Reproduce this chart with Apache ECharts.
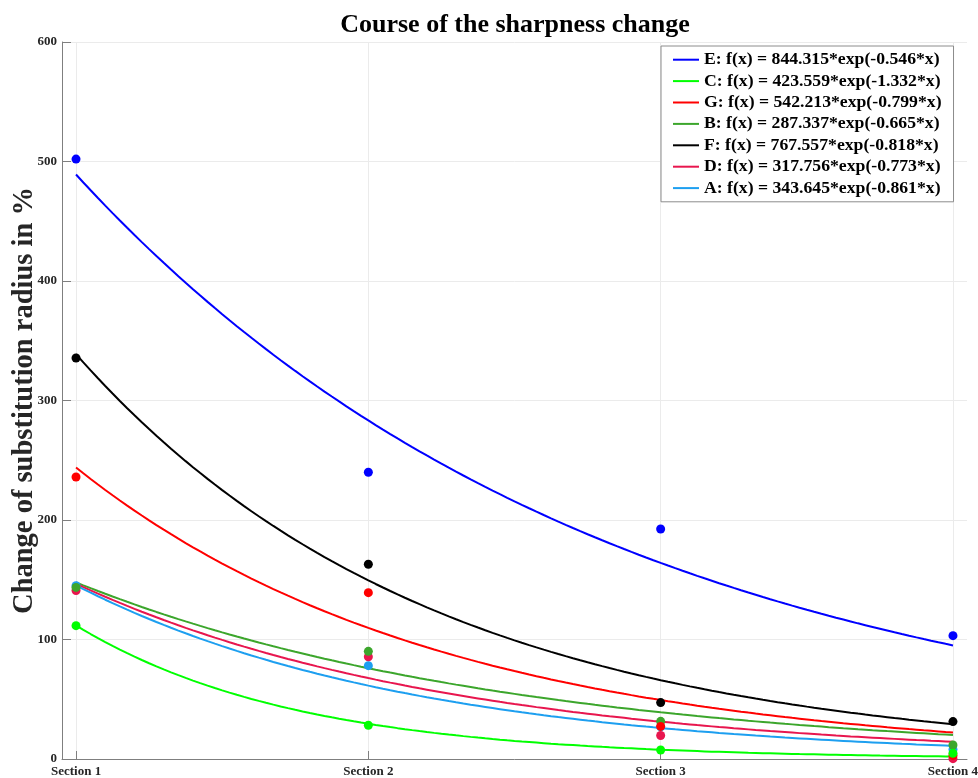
<!DOCTYPE html>
<html>
<head>
<meta charset="utf-8">
<script src="https://cdn.jsdelivr.net/npm/echarts@6/dist/echarts.min.js"></script>
<style>
  html, body { margin: 0; padding: 0; background: #fff; }
  #chart { width: 978px; height: 778px; }
</style>
</head>
<body>
<div id="chart"></div>
<script>
// Measurement sections along the x axis
const sections = ['Section 1', 'Section 2', 'Section 3', 'Section 4'];
const sectionPos = [1, 2, 3, 4];

// Groups, in legend order, with their exponential fit f(x) = a*exp(b*x)
const groups = ['E', 'C', 'G', 'B', 'F', 'D', 'A'];
const fitA = [844.315, 423.559, 542.213, 287.337, 767.557, 317.756, 343.645];
const fitB = [-0.546, -1.332, -0.799, -0.665, -0.818, -0.773, -0.861];
const colors = ['#0000ff', '#00ff00', '#ff0000', '#3ca62c', '#000000', '#e8164e', '#1d9ff0'];

// Measured change of substitution radius (%) per section
const valE = [502, 240, 192.5, 103.2];
const valC = [111.6, 28.2, 7.5, 4.8];
const valG = [236, 139.2, 27.3, 3];
const valB = [143.6, 90.1, 31.5, 11.7];
const valF = [335.6, 163, 47.2, 31.3];
const valD = [141, 85.6, 19.7, 0.3];
const valA = [145, 78.1, 27, 8];
const measured = { E: valE, C: valC, G: valG, B: valB, F: valF, D: valD, A: valA };

// Drawing order of the measured points (later ones lie on top)
const pointOrder = ['A', 'D', 'B', 'G', 'C', 'F', 'E'];

const serif = '"Liberation Serif", "Times New Roman", serif';

function fitCurve(i) {
  const pts = [];
  for (let k = 0; k <= 120; k++) {
    const x = 1 + k * 0.025;
    pts.push([x, fitA[i] * Math.exp(fitB[i] * x)]);
  }
  return pts;
}

function fitLabel(i) {
  return groups[i] + ': f(x) = ' + fitA[i].toFixed(3) + '*exp(' + fitB[i].toFixed(3) + '*x)';
}

const series = [];
groups.forEach((g, i) => {
  series.push({
    name: fitLabel(i),
    type: 'line',
    data: fitCurve(i),
    showSymbol: false,
    smooth: false,
    lineStyle: { color: colors[i], width: 2 },
    itemStyle: { color: colors[i] },
    z: 2,
    silent: true
  });
});
pointOrder.forEach((g) => {
  const i = groups.indexOf(g);
  series.push({
    name: g + ' measured',
    type: 'scatter',
    data: measured[g].map((v, k) => [sectionPos[k], v]),
    symbol: 'circle',
    symbolSize: 9,
    itemStyle: { color: colors[i], opacity: 1 },
    z: 3
  });
});

const chart = echarts.init(document.getElementById('chart'));
chart.setOption({
  animation: false,
  backgroundColor: '#ffffff',
  title: {
    text: 'Course of the sharpness change',
    left: 510,
    textAlign: 'center',
    top: 7,
    textStyle: { fontFamily: serif, fontWeight: 'bold', fontSize: 26, color: '#000' }
  },
  legend: {
    data: groups.map((g, i) => fitLabel(i)),
    orient: 'vertical',
    left: 661,
    top: 46,
    padding: [3, 12, 3, 12],
    itemGap: 0,
    itemWidth: 26,
    itemHeight: 2,
    icon: 'rect',
    backgroundColor: '#ffffff',
    borderColor: '#8c8c8c',
    borderWidth: 1,
    borderRadius: 0,
    textStyle: { fontFamily: serif, fontWeight: 'bold', fontSize: 17.7, color: '#000', lineHeight: 21.4 }
  },
  grid: { left: 62, right: 11, top: 42, bottom: 19, containLabel: false, outerBoundsMode: 'none' },
  xAxis: {
    type: 'value',
    min: 0.952,
    max: 4.048,
    axisLine: { show: true, lineStyle: { color: '#7f7f7f', width: 1 } },
    axisTick: { show: true, inside: true, length: 8, customValues: sectionPos, lineStyle: { color: '#7f7f7f' } },
    axisLabel: {
      customValues: sectionPos,
      margin: 6,
      formatter: (v) => sections[sectionPos.indexOf(v)],
      fontFamily: serif, fontWeight: 'bold', fontSize: 13, color: '#262626'
    },
    splitLine: { show: true, lineStyle: { color: '#ebebeb', width: 1 } }
  },
  yAxis: {
    type: 'value',
    min: 0,
    max: 600,
    interval: 100,
    name: 'Change of substitution radius in %',
    nameLocation: 'middle',
    nameGap: 23,
    nameMoveOverlap: false,
    nameTextStyle: { fontFamily: serif, fontWeight: 'bold', fontSize: 28.5, color: '#262626' },
    axisLine: { show: true, lineStyle: { color: '#7f7f7f', width: 1 } },
    axisTick: { show: true, inside: true, length: 9, lineStyle: { color: '#7f7f7f' } },
    axisLabel: { margin: 5, fontFamily: serif, fontWeight: 'bold', fontSize: 13, color: '#262626' },
    splitLine: { show: true, lineStyle: { color: '#ebebeb', width: 1 } }
  },
  series: series
});
</script>
</body>
</html>
